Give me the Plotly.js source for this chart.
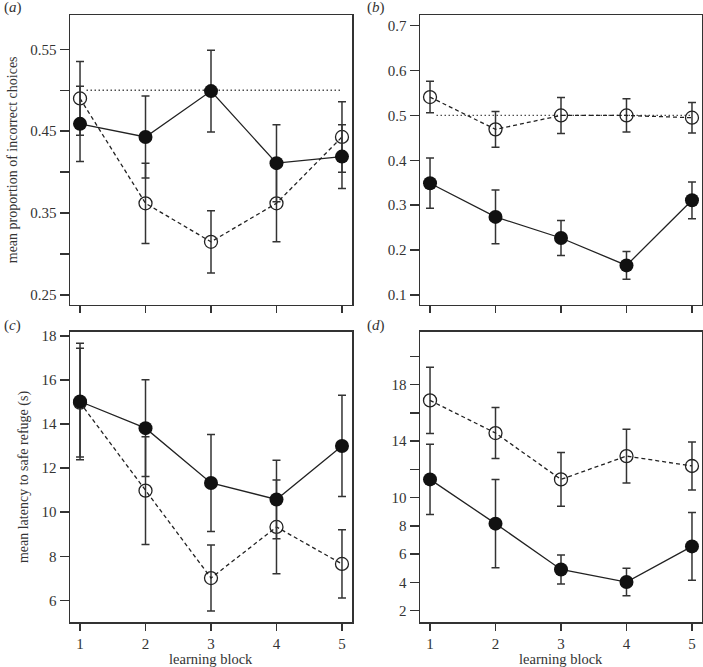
<!DOCTYPE html>
<html>
<head>
<meta charset="utf-8">
<script src="https://cdn.plot.ly/plotly-3.0.1.min.js"></script>
<style>html,body{margin:0;padding:0;background:#fff;}#chart{width:703px;height:667px;}</style>
</head>
<body>
<div id="chart"></div>
<script>
// ---- data ----
const blocks = [1, 2, 3, 4, 5];

// (a) mean proportion of incorrect choices
const aFilled = [0.459, 0.443, 0.499, 0.411, 0.419];
const aFilledSE = [0.046, 0.050, 0.050, 0.047, 0.039];
const aOpen = [0.490, 0.362, 0.315, 0.362, 0.443];
const aOpenSE = [0.045, 0.049, 0.038, 0.047, 0.043];

// (b) mean proportion of incorrect choices
const bFilled = [0.349, 0.274, 0.227, 0.166, 0.311];
const bFilledSE = [0.056, 0.060, 0.039, 0.031, 0.041];
const bOpen = [0.541, 0.469, 0.500, 0.500, 0.495];
const bOpenSE = [0.035, 0.040, 0.040, 0.037, 0.034];

// (c) mean latency to safe refuge (s)
const cFilled = [15.03, 13.82, 11.33, 10.58, 13.01];
const cFilledSE = [2.65, 2.20, 2.20, 1.78, 2.30];
const cOpen = [14.98, 10.98, 7.01, 9.33, 7.65];
const cOpenSE = [2.47, 2.45, 1.50, 2.13, 1.55];

// (d) mean latency to safe refuge (s)
const dFilled = [11.29, 8.16, 4.92, 4.03, 6.55];
const dFilledSE = [2.49, 3.12, 1.03, 0.98, 2.40];
const dOpen = [16.88, 14.57, 11.29, 12.94, 12.24];
const dOpenSE = [2.35, 1.80, 1.90, 1.90, 1.70];

// chance reference line
const chanceX = [1.1, 5];
const chanceY = [0.5, 0.5];

// tick labels
const aTickVals = [0.25, 0.30, 0.35, 0.40, 0.45, 0.50, 0.55];
const aTickText = ["0.25", "", "0.35", "", "0.45", "", "0.55"];
const bTickVals = [0.1, 0.2, 0.3, 0.4, 0.5, 0.6, 0.7];
const bTickText = ["0.1", "0.2", "0.3", "0.4", "0.5", "0.6", "0.7"];
const cTickVals = [6, 8, 10, 12, 14, 16, 18];
const cTickText = ["6", "8", "10", "12", "14", "16", "18"];
const dTickVals = [2, 4, 6, 8, 10, 12, 14, 16, 18, 20];
const dTickText = ["2", "4", "6", "8", "10", "", "14", "", "18", ""];
const xTickText = ["1", "2", "3", "4", "5"];

const panelLabels = ["a", "b", "c", "d"];
const yTitles = ["mean proportion of incorrect choices", "mean latency to safe refuge (s)"];
const xTitle = "learning block";

// ---- style ----
const INK = "#222";
const AX = "#333";
const FONT = "Liberation Serif, Times New Roman, serif";

function openTrace(y, se, xa, ya) {
  return {
    x: blocks, y: y, xaxis: xa, yaxis: ya, type: "scatter", mode: "lines+markers",
    line: {color: INK, width: 1.3, dash: "4px,3px"},
    marker: {symbol: "circle-open", size: 13, color: INK, line: {width: 1.3, color: INK}},
    error_y: {type: "data", array: se, visible: true, color: AX, thickness: 1.5, width: 4},
    showlegend: false, hoverinfo: "skip"
  };
}
function filledTrace(y, se, xa, ya) {
  return {
    x: blocks, y: y, xaxis: xa, yaxis: ya, type: "scatter", mode: "lines+markers",
    line: {color: INK, width: 1.3},
    marker: {symbol: "circle", size: 14, color: "#111", line: {width: 0}},
    error_y: {type: "data", array: se, visible: true, color: AX, thickness: 1.5, width: 4},
    showlegend: false, hoverinfo: "skip"
  };
}
function chanceTrace(xa, ya) {
  return {
    x: chanceX, y: chanceY, xaxis: xa, yaxis: ya, type: "scatter", mode: "lines",
    line: {color: "#333", width: 1.3, dash: "1.3px,2.7px"}, showlegend: false, hoverinfo: "skip"
  };
}

const traces = [
  chanceTrace("x", "y"), openTrace(aOpen, aOpenSE, "x", "y"), filledTrace(aFilled, aFilledSE, "x", "y"),
  chanceTrace("x2", "y2"), openTrace(bOpen, bOpenSE, "x2", "y2"), filledTrace(bFilled, bFilledSE, "x2", "y2"),
  openTrace(cOpen, cOpenSE, "x3", "y3"), filledTrace(cFilled, cFilledSE, "x3", "y3"),
  openTrace(dOpen, dOpenSE, "x4", "y4"), filledTrace(dFilled, dFilledSE, "x4", "y4")
];

const W = 703, H = 667;
const colL = [70 / W, 352 / W];
const colR = [420 / W, 702 / W];
const rowT = [(H - 304.7) / H, (H - 15) / H];
const rowB = [(H - 622.3) / H, (H - 331.7) / H];

function xAxis(domain, anchor, labels) {
  return {
    domain: domain, anchor: anchor, range: [0.847, 5.153],
    tickmode: "array", tickvals: blocks, ticktext: xTickText,
    showticklabels: labels, ticks: "outside", ticklen: 7, tickwidth: 1.5, tickcolor: AX,
    showline: true, mirror: true, linecolor: AX, linewidth: 1.5,
    showgrid: false, zeroline: false, fixedrange: true,
    tickfont: {family: FONT, size: 15, color: AX},
    title: {text: ""}
  };
}
function yAxis(domain, anchor, range, vals, text, title) {
  return {
    domain: domain, anchor: anchor, range: range,
    tickmode: "array", tickvals: vals, ticktext: text,
    ticks: "outside", ticklen: 9, tickwidth: 1.5, tickcolor: AX,
    showline: true, mirror: true, linecolor: AX, linewidth: 1.5,
    showgrid: false, zeroline: false, fixedrange: true,
    tickfont: {family: FONT, size: 15, color: AX},
    title: {text: title || "", font: {family: FONT, size: 14, color: AX}, standoff: 9}
  };
}

const labelPos = [[2, 8], [365, 8], [2, 325], [365, 325]];
const annotations = panelLabels.map((l, i) => ({
  xref: "paper", yref: "paper", x: labelPos[i][0] / W, y: 1 - labelPos[i][1] / H,
  xanchor: "left", yanchor: "middle", showarrow: false,
  text: "(<i>" + l + "</i>)", font: {family: FONT, size: 15, color: AX}
}));
// x-axis titles under the two bottom panels
[colL, colR].forEach(d => annotations.push({
  xref: "paper", yref: "paper", x: (d[0] + d[1]) / 2, y: 1 - 659 / H,
  xanchor: "center", yanchor: "middle", showarrow: false,
  text: xTitle, font: {family: FONT, size: 14.5, color: AX}
}));

const layout = {
  width: W, height: H, margin: {l: 0, r: 0, t: 0, b: 0},
  paper_bgcolor: "#fff", plot_bgcolor: "#fff", showlegend: false,
  xaxis: xAxis(colL, "y", false),
  yaxis: yAxis(rowT, "x", [0.2382, 0.5919], aTickVals, aTickText, yTitles[0]),
  xaxis2: xAxis(colR, "y2", false),
  yaxis2: yAxis(rowT, "x2", [0.0784, 0.7238], bTickVals, bTickText, ""),
  xaxis3: xAxis(colL, "y3", true),
  yaxis3: yAxis(rowB, "x3", [5.0, 18.2], cTickVals, cTickText, yTitles[1]),
  xaxis4: xAxis(colR, "y4", true),
  yaxis4: yAxis(rowB, "x4", [1.18, 21.74], dTickVals, dTickText, ""),
  annotations: annotations
};

Plotly.newPlot("chart", traces, layout, {staticPlot: true, displayModeBar: false});
</script>
</body>
</html>
